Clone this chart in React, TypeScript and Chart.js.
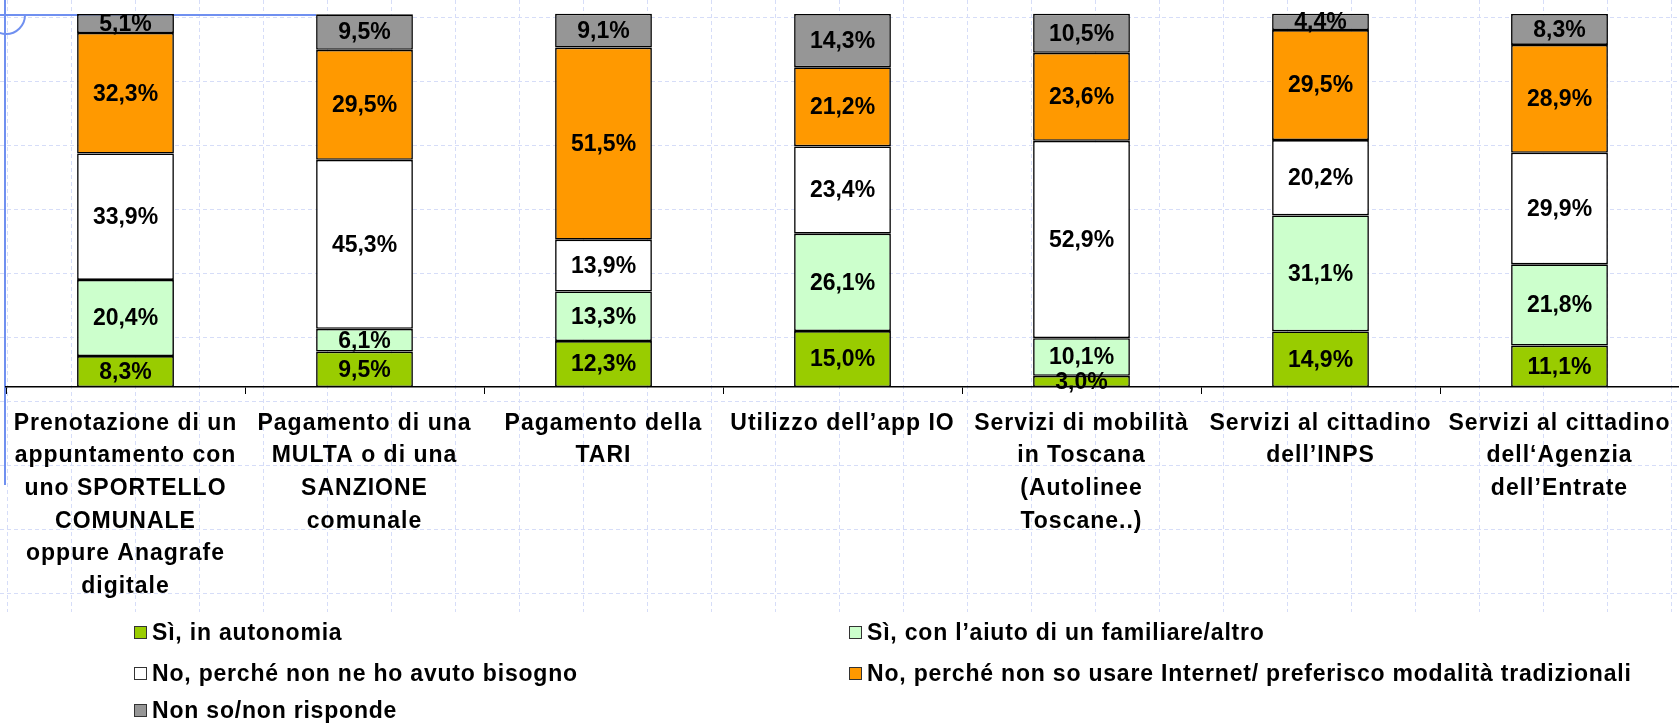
import React, { useEffect, useRef } from "react";
import { Chart, registerables } from "chart.js";

Chart.register(...registerables);

const categories: string[][] = [
  ["Prenotazione di un", "appuntamento con", "uno SPORTELLO", "COMUNALE", "oppure Anagrafe", "digitale"],
  ["Pagamento di una", "MULTA o di una", "SANZIONE", "comunale"],
  ["Pagamento della", "TARI"],
  ["Utilizzo dell’app IO"],
  ["Servizi di mobilità", "in Toscana", "(Autolinee", "Toscane..)"],
  ["Servizi al cittadino", "dell’INPS"],
  ["Servizi al cittadino", "dell‘Agenzia", "dell’Entrate"],
];

const seriesNames = [
  "Sì, in autonomia",
  "Sì, con l’aiuto di un familiare/altro",
  "No, perché non ne ho avuto bisogno",
  "No, perché non so usare Internet/ preferisco modalità tradizionali",
  "Non so/non risponde",
];

const autonomia = [8.3, 9.5, 12.3, 15.0, 3.0, 14.9, 11.1];
const conAiuto = [20.4, 6.1, 13.3, 26.1, 10.1, 31.1, 21.8];
const nonBisogno = [33.9, 45.3, 13.9, 23.4, 52.9, 20.2, 29.9];
const nonSoUsare = [32.3, 29.5, 51.5, 21.2, 23.6, 29.5, 28.9];
const nonRisponde = [5.1, 9.5, 9.1, 14.3, 10.5, 4.4, 8.3];

const seriesColors = ["#99CC00", "#CCFFCC", "#FFFFFF", "#FF9900", "#969696"];

const FONT = '"Liberation Sans", Arial, Helvetica, sans-serif';
const TICK_SPACING = "1px";

const fmt = (v: number) => v.toFixed(1).replace(".", ",") + "%";

const backgroundPlugin = {
  id: "slideBackground",
  beforeDraw(chart: any) {
    const ctx = chart.ctx as CanvasRenderingContext2D;
    const w = chart.width;
    ctx.save();
    ctx.fillStyle = "#ffffff";
    ctx.fillRect(0, 0, w, chart.height);
    ctx.strokeStyle = "#d6ddf8";
    ctx.lineWidth = 1;
    ctx.setLineDash([4, 3]);
    const gridBottom = 612;
    ctx.beginPath();
    for (let x = 7; x < w; x += 64) {
      ctx.moveTo(x + 0.5, 0);
      ctx.lineTo(x + 0.5, gridBottom);
    }
    for (let y = 17; y <= 593; y += 64) {
      ctx.moveTo(0, y + 0.5);
      ctx.lineTo(w, y + 0.5);
    }
    ctx.stroke();
    ctx.setLineDash([]);
    ctx.strokeStyle = "#7090f0";
    ctx.lineWidth = 2;
    ctx.beginPath();
    ctx.moveTo(5, 0);
    ctx.lineTo(5, 485);
    ctx.moveTo(0, 15);
    ctx.lineTo(316, 15);
    ctx.stroke();
    ctx.beginPath();
    ctx.arc(6, 15, 19, 0, Math.PI * 0.62);
    ctx.stroke();
    ctx.restore();
    (ctx as any).letterSpacing = TICK_SPACING;
  },
};

const valueLabelPlugin = {
  id: "valueLabels",
  afterDatasetsDraw(chart: any) {
    const ctx = chart.ctx as CanvasRenderingContext2D;
    ctx.save();
    (ctx as any).letterSpacing = "0px";
    ctx.font = `bold 23px ${FONT}`;
    ctx.fillStyle = "#000";
    ctx.textAlign = "center";
    ctx.textBaseline = "middle";
    chart.data.datasets.forEach((ds: any, i: number) => {
      const meta = chart.getDatasetMeta(i);
      meta.data.forEach((bar: any, j: number) => {
        const v = ds.data[j] as number;
        const p = bar.getProps(["x", "y", "base"], true);
        ctx.fillText(fmt(v), p.x, (p.y + p.base) / 2 + 1);
      });
    });
    ctx.restore();
    (ctx as any).letterSpacing = TICK_SPACING;
  },
};

export default function App() {
  const canvasRef = useRef<HTMLCanvasElement | null>(null);

  useEffect(() => {
    document.body.style.margin = "0";
    const canvas = canvasRef.current;
    if (!canvas) return;
    const values = [autonomia, conAiuto, nonBisogno, nonSoUsare, nonRisponde];
    const chart = new Chart(canvas, {
      type: "bar",
      data: {
        labels: categories,
        datasets: values.map((data, i) => ({
          label: seriesNames[i],
          data,
          backgroundColor: seriesColors[i],
          borderColor: "#000",
          borderWidth: 1.6,
          borderSkipped: false,
          barPercentage: 0.405,
          categoryPercentage: 1,
          clip: false,
        })),
      },
      options: {
        animation: false,
        responsive: false,
        devicePixelRatio: 1,
        layout: { padding: { left: 6, right: 0, top: 14, bottom: 0 } },
        plugins: {
          legend: { display: false },
          tooltip: { enabled: false },
        },
        scales: {
          x: {
            stacked: true,
            offset: true,
            grid: {
              offset: true,
              drawOnChartArea: false,
              drawTicks: true,
              tickLength: 7,
              color: "#000",
              lineWidth: 1,
            },
            border: { display: true, color: "#000", width: 1.5 },
            ticks: {
              autoSkip: false,
              maxRotation: 0,
              minRotation: 0,
              padding: 13,
              color: "#000",
              font: { family: FONT, size: 23, weight: "bold", lineHeight: 1.42 },
            },
            afterFit(scale: any) {
              scale.height = 337;
            },
          },
          y: {
            stacked: true,
            display: false,
            min: 0,
            max: 100,
          },
        },
      },
      plugins: [backgroundPlugin, valueLabelPlugin],
    } as any);
    return () => chart.destroy();
  }, []);

  const legendItem = (i: number, left: number, top: number) => (
    <div
      key={i}
      style={{
        position: "absolute",
        left,
        top,
        display: "flex",
        alignItems: "center",
        whiteSpace: "nowrap",
        fontFamily: FONT,
        fontWeight: "bold",
        fontSize: 23,
        letterSpacing: "0.8px",
        color: "#000",
        lineHeight: "26px",
        height: 26,
      }}
    >
      <span
        style={{
          display: "inline-block",
          width: 11,
          height: 11,
          border: "1px solid #333",
          background: seriesColors[i],
          marginRight: 5,
        }}
      />
      <span>{seriesNames[i]}</span>
    </div>
  );

  return (
    <div style={{ position: "relative", width: 1679, height: 724, overflow: "hidden", background: "#fff" }}>
      <canvas ref={canvasRef} width={1679} height={724} style={{ display: "block" }} />
      {legendItem(0, 134, 619)}
      {legendItem(1, 849, 619)}
      {legendItem(2, 134, 660)}
      {legendItem(3, 849, 660)}
      {legendItem(4, 134, 697)}
    </div>
  );
}
